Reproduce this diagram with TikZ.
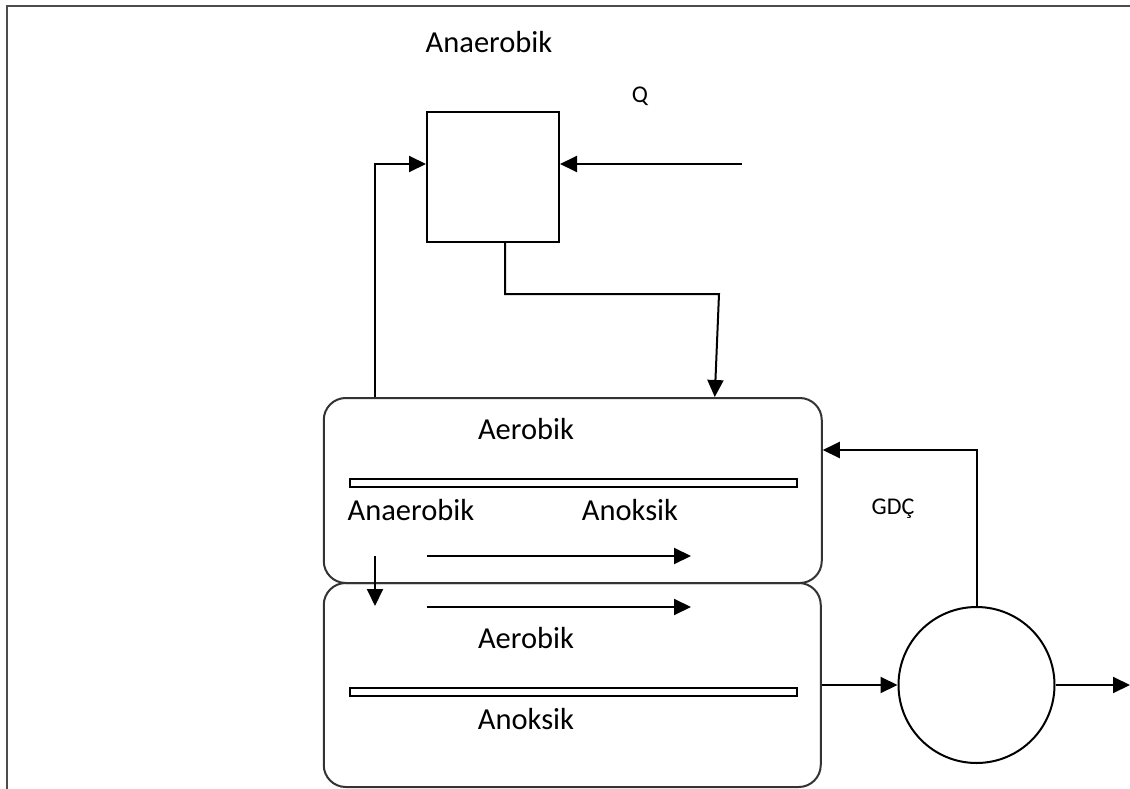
\documentclass[tikz,border=0pt]{standalone}
\usepackage{fontspec}
\setmainfont{Carlito}
\usetikzlibrary{arrows.meta}
\begin{document}
\begin{tikzpicture}[x=1pt,y=-1pt,
  line join=miter,
  flow/.style={draw=black,line width=2pt,-{Triangle[length=17pt,width=16pt]}},
  tank/.style={draw=black!80,line width=2pt,rounded corners=22pt,rectangle,inner sep=0pt},
  baffle/.style={draw=black,line width=1.6pt,rectangle,inner sep=0pt,minimum width=447pt,minimum height=8pt},
  lbl/.style={font=\fontsize{30.5}{36}\selectfont,inner sep=0pt},
  small/.style={font=\fontsize{24}{30}\selectfont,inner sep=0pt}]
\useasboundingbox (0,0) rectangle (1130,789);
\clip (0,0) rectangle (1130,789);
% page frame
\draw[black!70,line width=1.6pt] (7,6) rectangle (1150,810);

% anaerobic pre-reactor
\node[draw=black,line width=2pt,rectangle,inner sep=0pt,minimum width=132pt,minimum height=130pt] (pre) at (493,177) {};
\node[lbl] (tAna) at (489,42) {Anaerobik};
\node[small] (tQ) at (640,96) {Q};

% main reactor, two compartments
\node[tank,minimum width=498pt,minimum height=185pt] (up) at (572.75,490.5) {};
\node[tank,minimum width=497pt,minimum height=204pt] (lo) at (572.25,685) {};
\node[baffle] (b1) at (573.5,483) {};
\node[baffle] (b2) at (573.5,692) {};
\node[lbl] (tA1) at (526,429) {Aerobik};
\node[lbl] (tAn1) at (411,510) {Anaerobik};
\node[lbl] (tAk1) at (630,510) {Anoksik};
\node[lbl] (tA2) at (526,638) {Aerobik};
\node[lbl] (tAk2) at (526,719) {Anoksik};

% clarifier
\node[draw=black,line width=2pt,circle,inner sep=0pt,minimum size=156pt] (clar) at (976.5,685) {};
\node[small] (tG) at (893,509) {GDÇ};

% free ends and bends
\coordinate (qin) at (742,164);
\coordinate (rc) at (375,164);
\coordinate (bend) at (719,294);
\coordinate (eff) at (1130,685);
\coordinate (d1) at (375,556);
\coordinate (d2) at (375,606);
\coordinate (h1a) at (427,556);
\coordinate (h1b) at (691,556);
\coordinate (h2a) at (427,607);
\coordinate (h2b) at (691,607);

% connectors
\draw[flow] (qin) -- (qin -| pre.east);
\draw[flow] (rc |- up.north) -- (rc) -- (rc -| pre.west);
\draw[flow] ([xshift=12pt]pre.south) |- (bend) -- ([xshift=142pt]up.north);
\draw[flow] (clar.north) |- ([yshift=40.5pt]up.east);
\draw[flow] (lo.east) -- (clar.west);
\draw[flow] (clar.east) -- (eff);
\draw[flow] (d1) -- (d2);
\draw[flow] (h1a) -- (h1b);
\draw[flow] (h2a) -- (h2b);
\end{tikzpicture}
\end{document}
